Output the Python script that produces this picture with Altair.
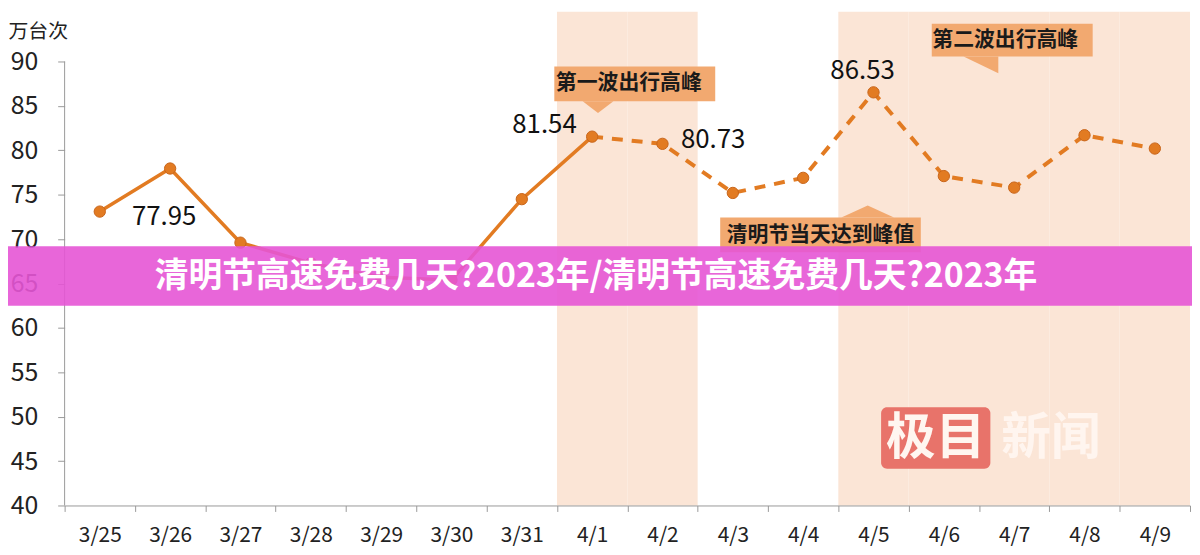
import altair as alt
import pandas as pd

dates = ["3/25", "3/26", "3/27", "3/28", "3/29", "3/30", "3/31", "4/1",
         "4/2", "4/3", "4/4", "4/5", "4/6", "4/7", "4/8", "4/9"]
values = [73.1, 77.95, 69.6, 67.3, 65.7, 65.4, 74.5, 81.54,
          80.73, 75.2, 76.9, 86.53, 77.1, 75.8, 81.7, 80.2]
solid_dates = dates[:8]      # 3/25 .. 4/1 solid
dashed_dates = dates[7:]     # 4/1 .. 4/9 dashed
shaded_dates = ["4/1", "4/2", "4/5", "4/6", "4/7", "4/8", "4/9"]
y_ticks = [40, 45, 50, 55, 60, 65, 70, 75, 80, 85, 90]
labels = [("3/26", "77.95", -6, 49), ("4/1", "81.54", -48, -12),
          ("4/2", "80.73", 51, -4), ("4/5", "86.53", -11, -21)]
unit = "万台次"
banner = "清明节高速免费几天?2023年/清明节高速免费几天?2023年"
callouts = ["第一波出行高峰", "清明节当天达到峰值", "第二波出行高峰"]

FONT = "Noto Sans CJK SC"
W, H = 1133, 497
ORANGE = "#E27B22"

df = pd.DataFrame({"date": dates, "value": values})
xscale = alt.Scale(domain=dates, paddingInner=0, paddingOuter=0)
yscale = alt.Scale(domain=[40, 95.6], nice=False, zero=False)

X = alt.X("date:N", scale=xscale, sort=dates,
          axis=alt.Axis(title=None, labelAngle=0, labelAlign="center", labelFontSize=21,
                        labelFont=FONT, labelColor="#222", tickBand="extent", tickSize=6,
                        tickColor="#999", domainColor="#999", labelPadding=24,
                        grid=False))
Y = alt.Y("value:Q", scale=yscale,
          axis=alt.Axis(values=y_ticks, title=unit, titleAngle=0, titleX=-57, titleY=20,
                        titleAlign="left", titleBaseline="middle", titleFontSize=20,
                        titleFont=FONT, titleFontWeight="normal", titleColor="#222",
                        labelFontSize=25, labelFont=FONT, labelColor="#222",
                        tickSize=7, tickColor="#999", domain=False, grid=False,
                        labelPadding=20))

shade = alt.Chart(pd.DataFrame({"date": shaded_dates})).mark_rect(color="#FBE5D6").encode(
    x=alt.X("date:N", scale=xscale, sort=dates),
    y=alt.value(0), y2=alt.value(H))

yaxis_line = alt.Chart(pd.DataFrame({"a": [40], "b": [90]})).mark_rule(color="#999", strokeWidth=1).encode(
    x=alt.value(0), y=alt.Y("a:Q", scale=yscale), y2="b:Q")

solid = alt.Chart(df[df.date.isin(solid_dates)]).mark_line(color=ORANGE, strokeWidth=3.5).encode(x=X, y=Y)
dashed = alt.Chart(df[df.date.isin(dashed_dates)]).mark_line(
    color=ORANGE, strokeWidth=4, strokeDash=[11, 9]).encode(x=X, y=Y)
points = alt.Chart(df).mark_point(filled=True, color=ORANGE, size=130, opacity=1,
                                  stroke="#C8651A", strokeWidth=1).encode(x=X, y=Y)

label_layers = []
for d, t, dx, dy in labels:
    label_layers.append(
        alt.Chart(df[df.date == d]).mark_text(text=t, fontSize=26, font=FONT, color="#111",
                                              dx=dx, dy=dy, align="center", baseline="middle")
        .encode(x=X, y=Y))

BOX = "#F2A970"
box_specs = [
    (493, 655, 55, 90, 568, 72, callouts[0]),
    (660, 862, 207, 242, 761, 225, callouts[1]),
    (873, 1035, 12, 45, 947, 28, callouts[2]),
]
box_layers = []
one = pd.DataFrame({"k": [0]})
for x0, x1, y0, y1, tx, ty, txt in box_specs:
    box_layers.append(alt.Chart(one).mark_rect(color=BOX).encode(
        x=alt.value(x0), x2=alt.value(x1), y=alt.value(y0), y2=alt.value(y1)))
    box_layers.append(alt.Chart(one).mark_text(text=txt, fontSize=21, font=FONT, fontWeight="bold",
                                               color="#1a1a1a", align="center", baseline="middle").encode(
        x=alt.value(tx), y=alt.value(ty)))

tails = [
    (537, 90, 31, "M -1 0 L 1 0 L 0 0.77 Z"),
    (808.5, 207, 53, "M -1 0 L 1 0 L 0 -0.45 Z"),
    (922.5, 45, 35, "M -1 0 L 1 0 L 1 0.97 Z"),
]
for tx, ty, w, path in tails:
    box_layers.append(alt.Chart(one).mark_point(shape=path, filled=True, color=BOX, opacity=1,
                                                size=w * w, strokeWidth=0).encode(
        x=alt.value(tx), y=alt.value(ty)))

wm_box = alt.Chart(one).mark_rect(color="#E8736A", cornerRadius=6).encode(
    x=alt.value(822), x2=alt.value(932), y=alt.value(398), y2=alt.value(460))
wm_t1 = alt.Chart(one).mark_text(text="极目", fontSize=50, font=FONT, fontWeight="bold",
                                 color="#FFF6F0", align="center", baseline="middle").encode(
    x=alt.value(877), y=alt.value(430))
wm_t2 = alt.Chart(one).mark_text(text="新闻", fontSize=50, font=FONT, fontWeight="bold",
                                 color="#FFF5EF", align="center", baseline="middle").encode(
    x=alt.value(993), y=alt.value(430))

banner_rect = alt.Chart(one).mark_rect(color="#E655D5", opacity=0.9).encode(
    x=alt.value(-65), x2=alt.value(1135), y=alt.value(236), y2=alt.value(296))
banner_text = alt.Chart(one).mark_text(text=banner, fontSize=34, font=FONT, fontWeight="bold",
                                       color="#FFFFFF", align="center", baseline="middle").encode(
    x=alt.value(535), y=alt.value(267))

chart = alt.layer(
    shade, wm_box, wm_t1, wm_t2, yaxis_line, solid, dashed, points, *label_layers, *box_layers,
    banner_rect, banner_text
).properties(
    width=W, height=H,
    autosize=alt.AutoSizeParams(type="none"),
    padding={"left": 57, "top": 2, "right": 2, "bottom": 45},
    view=alt.ViewBackground(stroke="transparent", strokeWidth=0),
).configure_view(strokeWidth=0, stroke="transparent").configure(background="white")

chart.save("out.html", embed_options={"renderer": "svg", "actions": False})
